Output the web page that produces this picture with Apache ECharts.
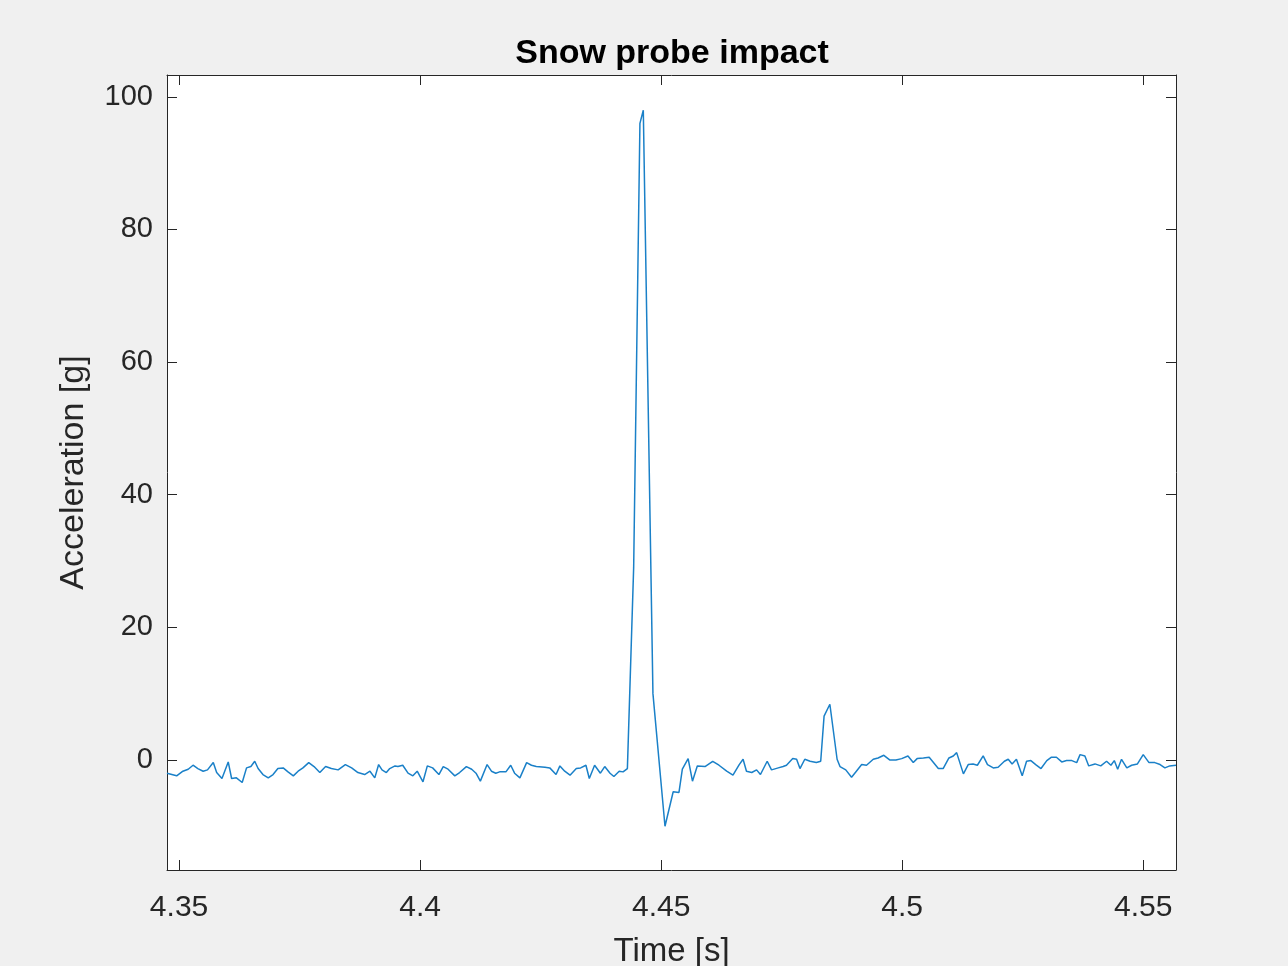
<!DOCTYPE html>
<html>
<head>
<meta charset="utf-8">
<script src="https://cdn.jsdelivr.net/npm/echarts@6/dist/echarts.min.js"></script>
<style>
  html, body { margin: 0; padding: 0; background: #f0f0f0; }
  #chart { width: 1288px; height: 966px; }
</style>
</head>
<body>
<div id="chart"></div>
<script>
// time [s] and acceleration [g]
var times = [
  4.3475, 4.3495, 4.3508, 4.3519, 4.3529, 4.3539, 4.3550, 4.3559, 4.3571, 4.3578,
  4.3589, 4.3602, 4.3609, 4.3619, 4.3631, 4.3640, 4.3649, 4.3657, 4.3664, 4.3674,
  4.3685, 4.3695, 4.3705, 4.3716, 4.3726, 4.3737, 4.3747, 4.3757, 4.3769, 4.3780,
  4.3792, 4.3804, 4.3816, 4.3830, 4.3845, 4.3858, 4.3871, 4.3885, 4.3896, 4.3906,
  4.3914, 4.3921, 4.3930, 4.3937, 4.3948, 4.3954, 4.3964, 4.3975, 4.3985, 4.3994,
  4.4006, 4.4015, 4.4026, 4.4039, 4.4048, 4.4058, 4.4072, 4.4082, 4.4096, 4.4107,
  4.4116, 4.4125, 4.4139, 4.4148, 4.4157, 4.4165, 4.4178, 4.4188, 4.4196, 4.4207,
  4.4221, 4.4231, 4.4241, 4.4259, 4.4269, 4.4282, 4.4290, 4.4300, 4.4311, 4.4324,
  4.4333, 4.4344, 4.4351, 4.4362, 4.4374, 4.4383, 4.4394, 4.4402, 4.4413, 4.4421,
  4.4430, 4.4434, 4.4443, 4.4456, 4.4463, 4.4483, 4.4508, 4.4525, 4.4537, 4.4544,
  4.4556, 4.4565, 4.4575, 4.4591, 4.4607, 4.4620, 4.4636, 4.4649, 4.4662, 4.4670,
  4.4677, 4.4688, 4.4698, 4.4706, 4.4720, 4.4729, 4.4743, 4.4753, 4.4760, 4.4773,
  4.4781, 4.4788, 4.4798, 4.4809, 4.4822, 4.4831, 4.4838, 4.4850, 4.4865, 4.4871,
  4.4883, 4.4895, 4.4905, 4.4916, 4.4926, 4.4940, 4.4950, 4.4962, 4.4974, 4.4987,
  4.4999, 4.5012, 4.5023, 4.5031, 4.5044, 4.5056, 4.5075, 4.5085, 4.5097, 4.5106,
  4.5113, 4.5127, 4.5137, 4.5147, 4.5156, 4.5168, 4.5177, 4.5189, 4.5199, 4.5212,
  4.5220, 4.5228, 4.5237, 4.5249, 4.5258, 4.5267, 4.5277, 4.5288, 4.5300, 4.5309,
  4.5320, 4.5331, 4.5341, 4.5352, 4.5362, 4.5369, 4.5379, 4.5387, 4.5400, 4.5412,
  4.5424, 4.5433, 4.5440, 4.5447, 4.5455, 4.5466, 4.5476, 4.5488, 4.5500, 4.5512,
  4.5524, 4.5535, 4.5545, 4.5555, 4.5568
];
var accel = [
  -2.0, -2.4, -1.7, -1.4, -0.8, -1.3, -1.7, -1.5, -0.4, -1.9,
  -2.8, -0.3, -2.8, -2.7, -3.4, -1.2, -1.0, -0.2, -1.3, -2.2,
  -2.7, -2.2, -1.3, -1.2, -1.8, -2.4, -1.7, -1.2, -0.4, -1.0,
  -1.9, -1.0, -1.3, -1.5, -0.7, -1.2, -1.9, -2.2, -1.7, -2.7,
  -0.7, -1.5, -1.9, -1.3, -0.9, -1.0, -0.8, -2.0, -2.4, -1.7,
  -3.3, -0.9, -1.2, -2.2, -1.0, -1.4, -2.4, -1.9, -1.0, -1.4,
  -2.0, -3.2, -0.7, -1.7, -2.0, -1.8, -1.8, -0.8, -2.0, -2.7,
  -0.4, -0.8, -1.0, -1.1, -1.2, -2.2, -0.9, -1.7, -2.3, -1.3,
  -1.2, -0.8, -2.8, -0.8, -2.0, -1.0, -2.0, -2.5, -1.7, -1.8,
  -1.3, -1.0, 29.0, 96.0, 98.0, 10.0, -10.0, -4.8, -4.9, -1.4,
  0.2, -3.2, -0.9, -1.0, -0.2, -0.8, -1.7, -2.3, -0.7, 0.1,
  -1.7, -1.9, -1.5, -2.2, -0.2, -1.5, -1.2, -1.0, -0.8, 0.2,
  0.1, -1.3, 0.1, -0.2, -0.4, -0.2, 6.6, 8.4, 0.1, -1.0,
  -1.5, -2.6, -1.7, -0.7, -0.8, 0.1, 0.3, 0.7, 0.0, 0.0,
  0.2, 0.6, -0.4, 0.2, 0.3, 0.4, -1.3, -1.3, 0.3, 0.6,
  1.1, -2.1, -0.7, -0.6, -0.8, 0.6, -0.7, -1.2, -1.1, -0.2,
  0.1, -0.6, 0.1, -2.4, -0.2, -0.1, -0.7, -1.3, -0.1, 0.4,
  0.4, -0.3, -0.1, -0.1, -0.4, 0.8, 0.6, -0.9, -0.6, -0.9,
  -0.2, -0.8, -0.1, -1.4, 0.1, -1.2, -0.8, -0.6, 0.8, -0.4,
  -0.4, -0.7, -1.2, -0.9, -0.8
];
var xTicks = [4.35, 4.4, 4.45, 4.5, 4.55];
var yTicks = [0, 20, 40, 60, 80, 100];

var chart = echarts.init(document.getElementById('chart'));
var axisColor = '#262626';
var seriesData = times.map(function (t, i) { return [t, accel[i]]; });

function xAxisDef(pos, main) {
  return {
    type: 'value',
    position: pos,
    min: 4.3475,
    max: 4.5568,
    name: main ? 'Time [s]' : '',
    nameLocation: 'middle',
    nameGap: 65,
    nameTextStyle: { fontFamily: 'Liberation Sans', fontSize: 33, color: axisColor },
    axisLine: { show: true, onZero: false, lineStyle: { color: axisColor, width: 1 } },
    axisTick: { show: true, inside: true, length: 10, customValues: xTicks, lineStyle: { color: axisColor } },
    axisLabel: {
      show: main,
      customValues: xTicks,
      margin: 23,
      fontFamily: 'Liberation Sans',
      fontSize: 30,
      color: axisColor,
      formatter: function (v) { return String(+v.toFixed(2)); }
    },
    splitLine: { show: false }
  };
}

function yAxisDef(pos, main) {
  return {
    type: 'value',
    position: pos,
    min: -16.6,
    max: 103.3,
    name: main ? 'Acceleration [g]' : '',
    nameLocation: 'middle',
    nameGap: 76,
    nameRotate: 90,
    nameTextStyle: { fontFamily: 'Liberation Sans', fontSize: 34, color: axisColor },
    axisLine: { show: true, onZero: false, lineStyle: { color: axisColor, width: 1 } },
    axisTick: { show: true, inside: true, length: 10, customValues: yTicks, lineStyle: { color: axisColor } },
    axisLabel: {
      show: main,
      customValues: yTicks,
      margin: 14,
      fontFamily: 'Liberation Sans',
      fontSize: 29,
      color: axisColor
    },
    splitLine: { show: false }
  };
}

var option = {
  backgroundColor: '#f0f0f0',
  animation: false,
  title: {
    text: 'Snow probe impact',
    left: 667,
    top: 32,
    textAlign: 'center',
    textStyle: { fontFamily: 'Liberation Sans', fontWeight: 'bold', fontSize: 34, color: '#000' }
  },
  grid: {
    left: 167,
    right: 112,
    top: 75,
    bottom: 96,
    containLabel: false,
    outerBoundsMode: 'none',
    show: true,
    backgroundColor: '#ffffff',
    borderWidth: 0
  },
  xAxis: [xAxisDef('bottom', true), xAxisDef('top', false)],
  yAxis: [yAxisDef('left', true), yAxisDef('right', false)],
  series: [
    {
      type: 'line',
      xAxisIndex: 0,
      yAxisIndex: 0,
      data: seriesData,
      showSymbol: false,
      lineStyle: { color: '#1a80c8', width: 1.5 },
      itemStyle: { color: '#1a80c8' }
    }
  ]
};
chart.setOption(option);
</script>
</body>
</html>
